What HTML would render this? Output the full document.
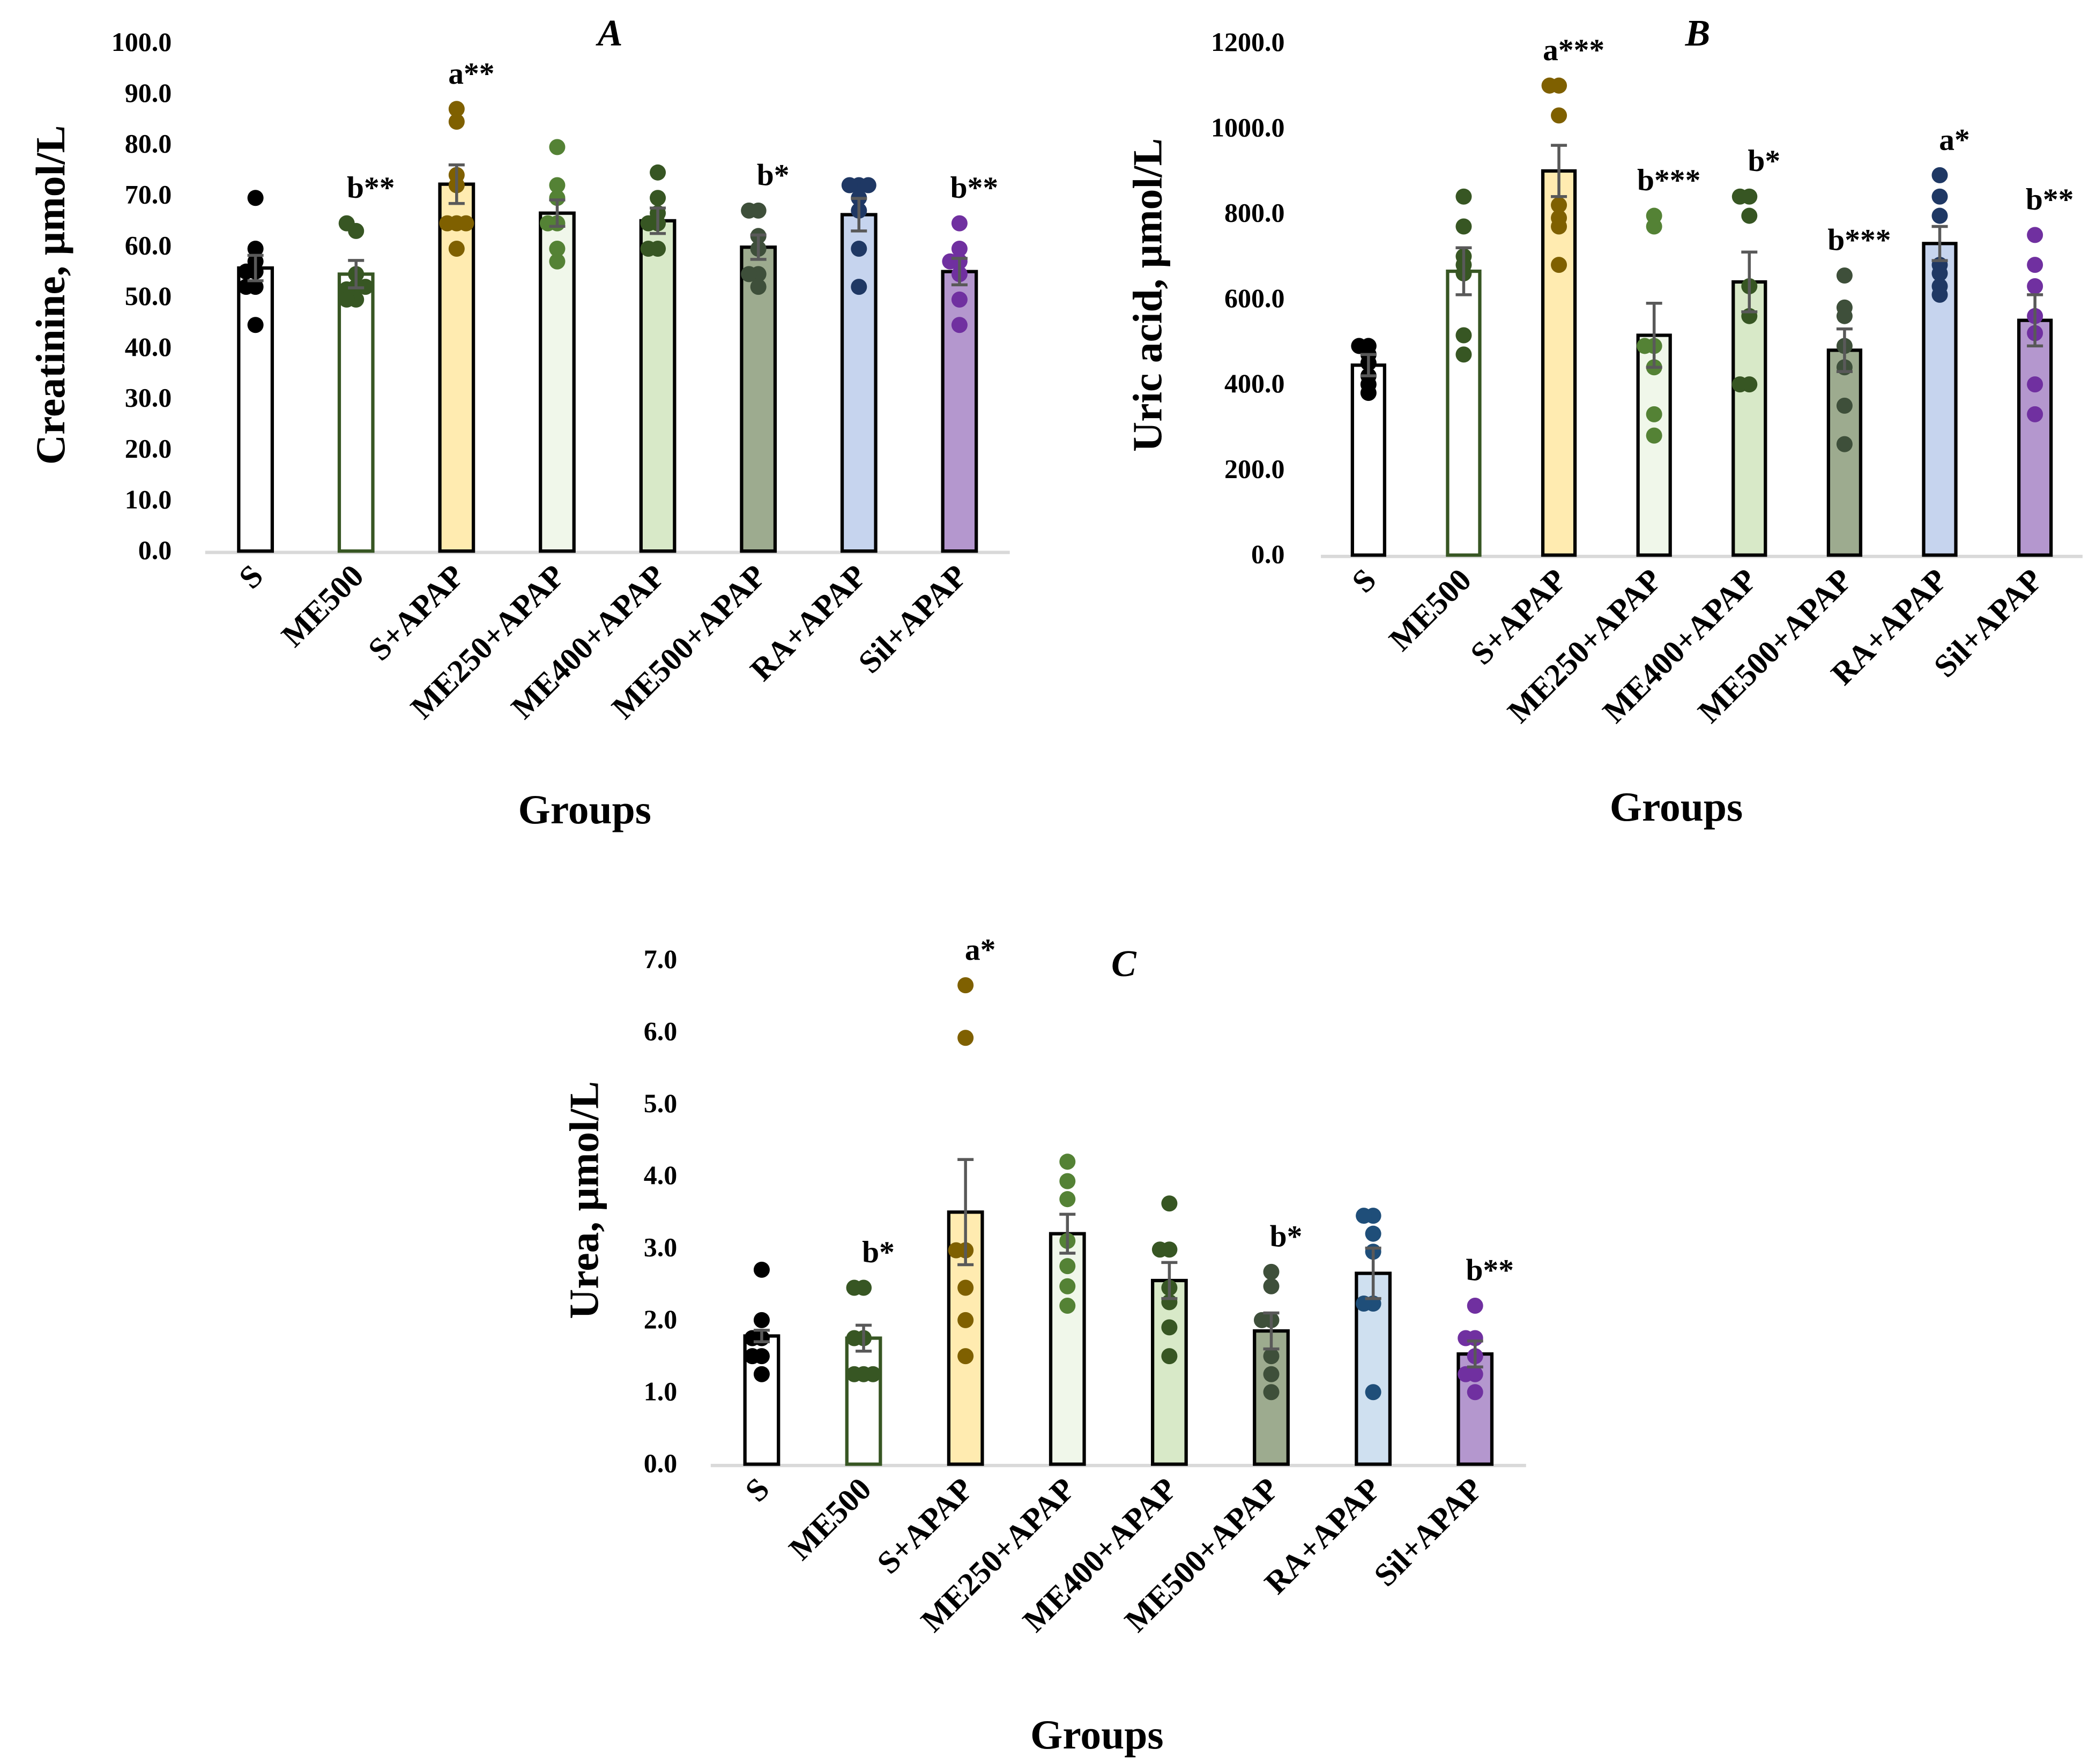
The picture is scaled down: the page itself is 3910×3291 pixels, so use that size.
<!DOCTYPE html>
<html><head><meta charset="utf-8">
<style>
html,body{margin:0;padding:0;background:#fff;}
svg{display:block;font-family:"Liberation Serif",serif;font-weight:bold;}
</style></head>
<body>
<svg id="fig" width="3910" height="3291" viewBox="0 0 1563 1315.6" xmlns="http://www.w3.org/2000/svg"></svg>
<script>
const groups = ["S","ME500","S+APAP","ME250+APAP","ME400+APAP","ME500+APAP","RA+APAP","Sil+APAP"];
const creatMean = [55.7,54.5,72.2,66.5,65.0,59.8,66.2,55.0];
const creatErr = [2.5,2.7,3.8,2.6,2.5,2.4,3.2,2.6];
const creatDots = [[69.5,59.5,57,55,52,52,55,44.5],[63,64.5,54.5,52,51.5,49.5,49.5,52],[87,84.5,74,72,64.5,64.5,64.5,59.5],[79.5,72,69.5,64.5,64.5,59.5,57],[74.5,69.5,66.5,64.5,64.5,59.5,59.5],[67,67,62,59.5,54.5,54.5,52],[72,72,72,69.5,67,59.5,52],[64.5,59.5,57,57,54.5,49.5,44.5]];
const creatSig = ["","b**","a**","","","b*","","b**"];
const creatTicks = [0,10,20,30,40,50,60,70,80,90,100];
const uricMean = [445,665,900,515,640,480,730,550];
const uricErr = [25,55,60,75,70,50,40,60];
const uricDots = [[490,490,470,450,420,400,380],[840,770,700,680,660,515,470],[1100,1100,1030,820,790,770,680],[795,770,490,490,440,330,280],[840,840,795,630,560,400,400],[655,580,560,490,440,350,260],[890,840,795,680,660,630,610],[750,680,630,560,520,400,330]];
const uricSig = ["","","a***","b***","b*","b***","a*","b**"];
const uricTicks = [0,200,400,600,800,1000,1200];
const ureaMean = [1.78,1.75,3.5,3.2,2.55,1.85,2.65,1.53];
const ureaErr = [0.08,0.18,0.73,0.27,0.25,0.25,0.35,0.18];
const ureaDots = [[2.7,2.0,1.75,1.75,1.5,1.5,1.25],[2.45,2.45,1.75,1.75,1.25,1.25,1.25],[6.65,5.92,2.97,2.97,2.45,2.0,1.5],[4.2,3.93,3.68,3.1,2.75,2.47,2.2],[3.62,2.98,2.98,2.45,2.25,1.9,1.5],[2.67,2.47,2.0,2.0,1.5,1.25,1.0],[3.45,3.45,3.2,2.95,2.23,2.23,1.0],[2.2,1.75,1.75,1.5,1.25,1.25,1.0]];
const ureaSig = ["","b*","a*","","","b*","","b**"];
const ureaTicks = [0,1,2,3,4,5,6,7];

const fills = ["#ffffff","#ffffff","#FFEBB0","#F0F7EA","#D8E9C8","#9DAB8F","#C6D4EE","#B497CE"];
const strokes = ["#000","#375623","#000","#000","#000","#000","#000","#000"];
const dotCols = ["#000000","#375623","#7F6000","#548235","#375623","#3E4F3A","#1F3864","#7030A0"];
const NS="http://www.w3.org/2000/svg";
const svg=document.getElementById('fig');
function el(tag,attrs,parent){const e=document.createElementNS(NS,tag);for(const k in attrs)e.setAttribute(k,attrs[k]);(parent||svg).appendChild(e);return e;}

function chart(cfg){
  const g=el('g',{});
  
  
  const n=groups.length;
  const step=(cfg.x1-cfg.x0)/n;
  const xs=i=>cfg.x0+step*(i+0.5);
  const ys=v=>cfg.yBase-(v-0)/(cfg.yMax)*(cfg.yBase-cfg.yTop);
  cfg.ticks.forEach(t=>{
    const tx=el('text',{x:cfg.tickX,y:ys(t)+6,'text-anchor':'end','font-size':20,fill:'#000'},g);
    tx.textContent=t.toFixed(1);
    
    
  });
  const ax=el('line',{x1:cfg.x0,x2:cfg.x1,y1:cfg.yBase+1,y2:cfg.yBase+1,stroke:'#d9d9d9','stroke-width':2.5},g);
  
  
  const bw=cfg.bw;
  groups.forEach((gname,i)=>{
    const x=xs(i), m=cfg.mean[i];
    const b=el('rect',{x:x-bw/2,y:ys(m),width:bw,height:ys(0)-ys(m),fill:cfg.fills[i],stroke:strokes[i],'stroke-width':2.5},g);
    
    
    const d=cfg.dots[i];
    const seen={};
    d.forEach((v,k)=>{
      const key=Math.round(v/cfg.bin);
      const c=(seen[key]||0); seen[key]=c+1;
      const off=[0,-7,7,-4,4][c%5];
      const dt=el('circle',{cx:x+off,cy:ys(v),r:6,fill:cfg.dotCols[i]},g);
      
      
    });
    const e=cfg.err[i];
    const eb=el('path',{d:`M${x},${ys(m-e)}V${ys(m+e)}M${x-6},${ys(m+e)}H${x+6}M${x-6},${ys(m-e)}H${x+6}`,stroke:'#595959','stroke-width':2.2,fill:'none'},g);
    
    
    if(cfg.sig[i]){
      const top=Math.max(m+e,...d);
      const s=el('text',{x:x+11,y:ys(top)-cfg.sigGap,'text-anchor':'middle','font-size':23,fill:'#000'},g);
      s.textContent=cfg.sig[i];
      
      
    }
    const lx=x+7, ly=cfg.yBase+20;
    const lt=el('text',{x:lx,y:ly,'text-anchor':'end','font-size':24,transform:`rotate(-45 ${lx} ${ly})`,fill:'#000'},g);
    lt.textContent=gname;
    
    
  });
  const yt=el('text',{x:0,y:0,'text-anchor':'middle','font-size':31,transform:`translate(${cfg.ytX} ${cfg.ytY}) rotate(-90)`,fill:'#000'},g);
  yt.textContent=cfg.ytitle;
  
  
  const xt=el('text',{x:cfg.gx,y:cfg.gy,'text-anchor':'middle','font-size':31,fill:'#000'},g);
  xt.textContent='Groups';
  
  
  const pt=el('text',{x:cfg.px,y:cfg.py,'text-anchor':'middle','font-size':28,'font-style':'italic',fill:'#000'},g);
  pt.textContent=cfg.panel;
  
  
}

chart({name:'chart-creatinine',x0:153,x1:753,yBase:411,yTop:32,yMax:100,ticks:creatTicks,tickX:128,bw:25,
  mean:creatMean,err:creatErr,dots:creatDots,sig:creatSig,fills:fills,dotCols:dotCols,bin:2,sigGap:19,
  ytitle:'Creatinine, µmol/L',ytX:48,ytY:220,gx:436,gy:614,panel:'A',px:455,py:34});
chart({name:'chart-uric-acid',x0:985,x1:1553,yBase:414,yTop:32,yMax:1200,ticks:uricTicks,tickX:958,bw:24,
  mean:uricMean,err:uricErr,dots:uricDots,sig:uricSig,fills:fills,dotCols:dotCols,bin:25,sigGap:19,
  ytitle:'Uric acid, µmol/L',ytX:866,ytY:220,gx:1250,gy:612,panel:'B',px:1266,py:34});
const fillsC=fills.slice(); fillsC[6]="#CFE0F0";
const dotsC=dotCols.slice(); dotsC[6]="#1F4E79";
chart({name:'chart-urea',x0:530,x1:1138,yBase:1092,yTop:716,yMax:7,ticks:ureaTicks,tickX:505,bw:25,
  mean:ureaMean,err:ureaErr,dots:ureaDots,sig:ureaSig,fills:fillsC,dotCols:dotsC,bin:0.12,sigGap:19,
  ytitle:'Urea, µmol/L',ytX:446,ytY:895,gx:818,gy:1304,panel:'C',px:838,py:728});
</script>
</body></html>
